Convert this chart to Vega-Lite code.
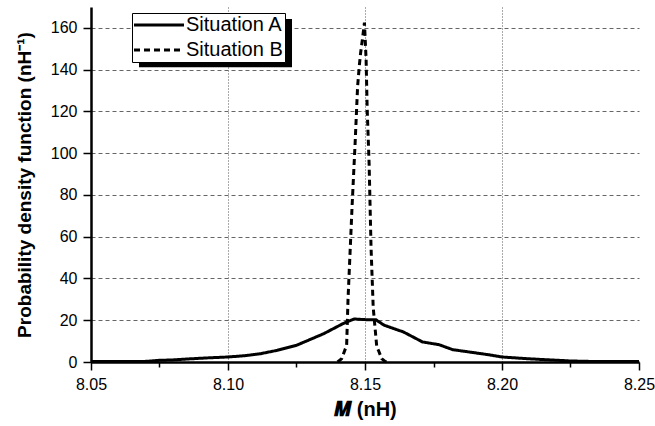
{
  "$schema": "https://vega.github.io/schema/vega-lite/v6.json",
  "width": 548,
  "height": 355,
  "autosize": {"type": "none"},
  "padding": {"left": 91, "top": 7, "right": 16, "bottom": 64},
  "background": "white",
  "config": {"view": {"stroke": null}, "font": "Liberation Sans"},
  "layer": [
    {
      "data": {"values": [{"part": "legend shadow"}]},
      "mark": {"type": "rect", "color": "black"},
      "encoding": {
        "x": {"datum": 8.06752},
        "x2": {"datum": 8.12336},
        "y": {"datum": 164.2},
        "y2": {"datum": 141.2}
      }
    },
    {
      "data": {
        "values": [
          {"situation": "Situation A", "M": 8.050, "pdf": 0.2},
          {"situation": "Situation A", "M": 8.060, "pdf": 0.2},
          {"situation": "Situation A", "M": 8.070, "pdf": 0.3},
          {"situation": "Situation A", "M": 8.075, "pdf": 0.8},
          {"situation": "Situation A", "M": 8.080, "pdf": 1.0},
          {"situation": "Situation A", "M": 8.086, "pdf": 1.5},
          {"situation": "Situation A", "M": 8.093, "pdf": 2.0},
          {"situation": "Situation A", "M": 8.100, "pdf": 2.4},
          {"situation": "Situation A", "M": 8.106, "pdf": 3.0},
          {"situation": "Situation A", "M": 8.112, "pdf": 4.0},
          {"situation": "Situation A", "M": 8.118, "pdf": 5.6},
          {"situation": "Situation A", "M": 8.125, "pdf": 8.0},
          {"situation": "Situation A", "M": 8.1293, "pdf": 10.4},
          {"situation": "Situation A", "M": 8.135, "pdf": 13.6},
          {"situation": "Situation A", "M": 8.142, "pdf": 18.4},
          {"situation": "Situation A", "M": 8.146, "pdf": 20.6},
          {"situation": "Situation A", "M": 8.150, "pdf": 20.3},
          {"situation": "Situation A", "M": 8.154, "pdf": 20.2},
          {"situation": "Situation A", "M": 8.157, "pdf": 17.6},
          {"situation": "Situation A", "M": 8.164, "pdf": 14.4},
          {"situation": "Situation A", "M": 8.171, "pdf": 9.6},
          {"situation": "Situation A", "M": 8.177, "pdf": 8.3},
          {"situation": "Situation A", "M": 8.182, "pdf": 5.9},
          {"situation": "Situation A", "M": 8.188, "pdf": 4.8},
          {"situation": "Situation A", "M": 8.195, "pdf": 3.5},
          {"situation": "Situation A", "M": 8.200, "pdf": 2.4},
          {"situation": "Situation A", "M": 8.209, "pdf": 1.6},
          {"situation": "Situation A", "M": 8.216, "pdf": 1.1},
          {"situation": "Situation A", "M": 8.225, "pdf": 0.5},
          {"situation": "Situation A", "M": 8.235, "pdf": 0.2},
          {"situation": "Situation A", "M": 8.250, "pdf": 0.2},
          {"situation": "Situation B", "M": 8.1400, "pdf": 0},
          {"situation": "Situation B", "M": 8.1415, "pdf": 1.6},
          {"situation": "Situation B", "M": 8.1433, "pdf": 8},
          {"situation": "Situation B", "M": 8.1438, "pdf": 30},
          {"situation": "Situation B", "M": 8.1453, "pdf": 75},
          {"situation": "Situation B", "M": 8.1464, "pdf": 105},
          {"situation": "Situation B", "M": 8.1473, "pdf": 132},
          {"situation": "Situation B", "M": 8.1479, "pdf": 141.5},
          {"situation": "Situation B", "M": 8.1484, "pdf": 148},
          {"situation": "Situation B", "M": 8.1490, "pdf": 154},
          {"situation": "Situation B", "M": 8.1498, "pdf": 162.5},
          {"situation": "Situation B", "M": 8.1504, "pdf": 145},
          {"situation": "Situation B", "M": 8.1508, "pdf": 121},
          {"situation": "Situation B", "M": 8.1515, "pdf": 95},
          {"situation": "Situation B", "M": 8.1522, "pdf": 55},
          {"situation": "Situation B", "M": 8.1530, "pdf": 26},
          {"situation": "Situation B", "M": 8.1543, "pdf": 7.2},
          {"situation": "Situation B", "M": 8.1549, "pdf": 5.6},
          {"situation": "Situation B", "M": 8.1561, "pdf": 1.6},
          {"situation": "Situation B", "M": 8.1573, "pdf": 0.3},
          {"situation": "Situation B", "M": 8.1585, "pdf": 0}
        ]
      },
      "mark": {"type": "line", "strokeWidth": 3, "color": "black", "strokeCap": "butt"},
      "encoding": {
        "x": {
          "field": "M",
          "type": "quantitative",
          "scale": {"domain": [8.05, 8.25], "nice": false, "zero": false},
          "axis": {
            "title": "𝑴 (nH)",
            "values": [8.05, 8.075, 8.1, 8.125, 8.15, 8.175, 8.2, 8.225, 8.25],
            "format": ".2f",
            "labelExpr": "round(datum.value*1000)%50==0 ? datum.label : ''",
            "tickSize": {"condition": {"test": "round(datum.value*1000)%50==0", "value": 8}, "value": 5},
            "grid": true,
            "gridOpacity": {"condition": {"test": "round(datum.value*1000)%50==0 && datum.value>8.06 && datum.value<8.24", "value": 1}, "value": 0},
            "gridDash": [1, 2],
            "gridColor": "#555555",
            "gridWidth": 1,
            "domainColor": "black",
            "domainWidth": 2.5,
            "tickColor": "black",
            "tickWidth": 1.5,
            "labelFont": "Liberation Sans",
            "labelFontSize": 16,
            "labelColor": "black",
            "labelPadding": 6,
            "labelFlush": false,
            "labelOverlap": false,
            "titleFont": "Liberation Sans",
            "titleFontSize": 20,
            "titleFontWeight": "bold",
            "titleColor": "black",
            "titlePadding": 7
          }
        },
        "y": {
          "field": "pdf",
          "type": "quantitative",
          "scale": {"domain": [0, 170], "nice": false},
          "axis": {
            "title": "Probability density function (nH⁻¹)",
            "values": [0, 10, 20, 30, 40, 50, 60, 70, 80, 90, 100, 110, 120, 130, 140, 150, 160, 170],
            "labelExpr": "datum.value%20==0 && datum.value<=160 ? datum.label : ''",
            "tickSize": {"condition": {"test": "datum.value%20==0 || datum.value==170", "value": 8}, "value": 5},
            "grid": true,
            "gridOpacity": {"condition": {"test": "datum.value%20==0 && datum.value<=160", "value": 1}, "value": 0},
            "gridDash": [4, 3],
            "gridColor": "#666666",
            "gridWidth": 1,
            "domainColor": "black",
            "domainWidth": 2.5,
            "tickColor": "black",
            "tickWidth": 1.5,
            "labelFont": "Liberation Sans",
            "labelFontSize": 16,
            "labelColor": "black",
            "labelPadding": 6,
            "labelFlush": false,
            "labelOverlap": false,
            "titleFont": "Liberation Sans",
            "titleFontSize": 19,
            "titleFontWeight": "bold",
            "titleColor": "black",
            "titlePadding": 16
          }
        },
        "strokeDash": {
          "field": "situation",
          "type": "nominal",
          "scale": {"domain": ["Situation A", "Situation B"], "range": [[1, 0], [6, 4]]},
          "legend": {
            "title": null,
            "orient": "none",
            "legendX": 41,
            "legendY": 6,
            "symbolType": "M-5,0H5",
            "symbolSize": 100,
            "symbolStrokeWidth": 3,
            "symbolStrokeColor": "black",
            "labelFont": "Liberation Sans",
            "labelFontSize": 20,
            "labelColor": "black",
            "fillColor": "white",
            "strokeColor": "black",
            "padding": 2,
            "symbolOffset": 15,
            "labelOffset": 17,
            "rowPadding": 5
          }
        }
      }
    }
  ]
}
